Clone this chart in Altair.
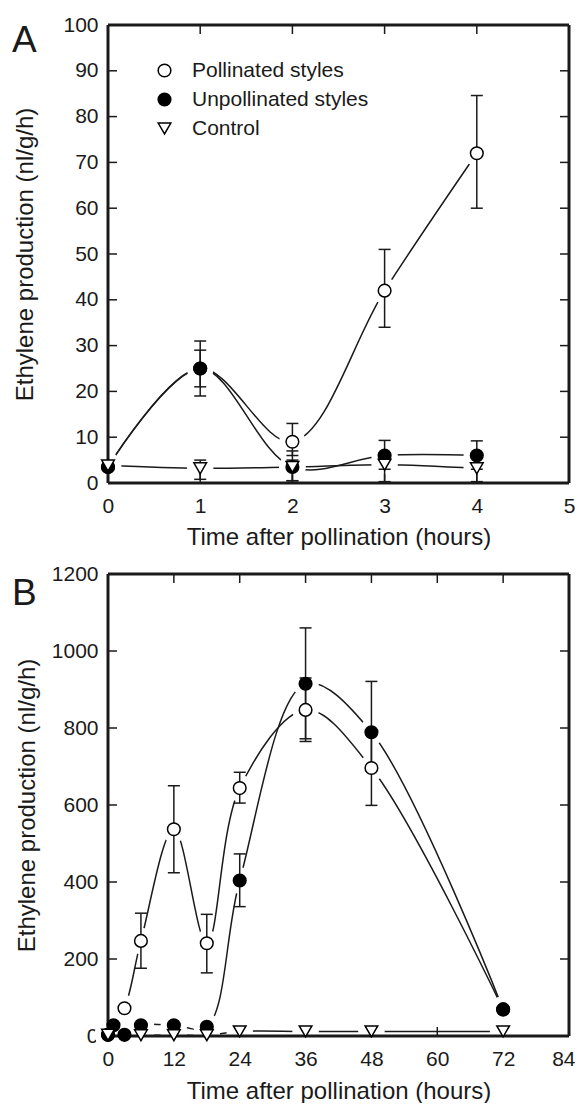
import altair as alt
import pandas as pd

SERIES = ["Pollinated styles", "Unpollinated styles", "Control"]

# ---------------- Panel A (hours 0-5) ----------------
a_x = [0, 1, 2, 3, 4]
a_poll = [3.5, 25, 9, 42, 72]
a_poll_lo = [None, 19, 6, 34, 60]
a_poll_hi = [None, 31, 13, 51, 84.6]
a_unpoll = [3.5, 25, 3.5, 6, 6]
a_unpoll_lo = [None, 21, 0.5, 3, 3]
a_unpoll_hi = [None, 29, 7, 9.3, 9.2]
a_ctrl = [3.8, 3.2, 3.5, 4, 3.2]
a_ctrl_lo = [None, 0.8, 0.5, 0.3, 0.3]
a_ctrl_hi = [None, 5, 5, 6, 5.5]

a_xticks = [0, 1, 2, 3, 4, 5]
a_yticks = [0, 10, 20, 30, 40, 50, 60, 70, 80, 90, 100]

# ---------------- Panel B (hours 0-84) ----------------
b_poll_x = [0, 3, 6, 12, 18, 24, 36, 48, 72]
b_poll = [3, 72, 247, 537, 241, 644, 847, 696, 69]
b_poll_lo = [None, None, 176, 424, 164, 605, 765, 599, None]
b_poll_hi = [None, None, 319, 650, 316, 685, 930, 790, None]
b_unpoll_x = [0, 1, 3, 6, 12, 18, 24, 36, 48, 72]
b_unpoll = [3, 28, 3, 28, 28, 24, 404, 915, 789, 69]
b_unpoll_lo = [None, None, None, None, None, None, 336, 772, 690, None]
b_unpoll_hi = [None, None, None, None, None, None, 473, 1060, 921, None]
b_ctrl_x = [0, 6, 12, 18, 24, 36, 48, 72]
b_ctrl = [3, 2, 2, 2, 12, 12, 12, 12]

b_xticks = [0, 12, 24, 36, 48, 60, 72, 84]
b_yticks = [0, 200, 400, 600, 800, 1000, 1200]

FONT = "Liberation Sans"
INK = "#1a1a1a"
TICK = 9
W = 461


def frame(xs, ys, lows, highs):
    rows = []
    for name, x, y, lo, hi in zip(SERIES, xs, ys, lows, highs):
        for i in range(len(x)):
            rows.append({"series": name, "x": x[i], "y": y[i],
                         "lo": lo[i] if lo else None, "hi": hi[i] if hi else None})
    return pd.DataFrame(rows)


def panel(df, xticks, yticks, H, letter, letter_y, ytitle_pad, xtitle_pad, show_legend):
    x0, x1 = xticks[0], xticks[-1]
    y0, y1 = yticks[0], yticks[-1]
    xs = alt.Scale(domain=[x0, x1], nice=False, zero=False)
    ys = alt.Scale(domain=[y0, y1], nice=False, zero=False)
    shape_scale = alt.Scale(domain=SERIES, range=["circle", "circle", "triangle-down"])
    fill_scale = alt.Scale(domain=SERIES, range=["white", "black", "white"])
    stroke_scale = alt.Scale(domain=SERIES, range=["black", "black", "black"])
    if show_legend:
        leg = alt.Legend(title=None, orient="none", legendX=46, legendY=35,
                         labelFont=FONT, labelFontSize=21, labelColor=INK,
                         labelLimit=0,
                         symbolSize=160, symbolStrokeColor="black",
                         symbolStrokeWidth=1.5, labelOffset=17, rowPadding=7,
                         padding=0)
    else:
        leg = None

    base = alt.Chart(df)
    lines = base.mark_line(interpolate="catmull-rom", color=INK, strokeWidth=1.5).encode(
        x=alt.X("x:Q", scale=xs,
                axis=alt.Axis(values=xticks, format="d", labelFlush=True,
                              labelFlushOffset=6,
                              title="Time after pollination (hours)",
                              labelPadding=12, titlePadding=xtitle_pad)),
        y=alt.Y("y:Q", scale=ys,
                axis=alt.Axis(values=yticks, format="d", labelFlush=False,
                              title="Ethylene production (nl/g/h)",
                              labelPadding=10, titlePadding=ytitle_pad)),
        detail="series:N",
    )
    halo = base.mark_circle(size=700, color="white", opacity=1).encode(
        x=alt.X("x:Q", scale=xs), y=alt.Y("y:Q", scale=ys))

    tx = alt.Chart(pd.DataFrame({"t": xticks[1:-1]}))
    ty = alt.Chart(pd.DataFrame({"t": yticks[1:-1]}))
    tick_b = tx.mark_rule(color=INK, strokeWidth=1.5).encode(
        x=alt.X("t:Q", scale=xs), y=alt.value(H), y2=alt.value(H - TICK))
    tick_t = tx.mark_rule(color=INK, strokeWidth=1.5).encode(
        x=alt.X("t:Q", scale=xs), y=alt.value(0), y2=alt.value(TICK))
    tick_l = ty.mark_rule(color=INK, strokeWidth=1.5).encode(
        y=alt.Y("t:Q", scale=ys), x=alt.value(0), x2=alt.value(TICK))
    tick_r = ty.mark_rule(color=INK, strokeWidth=1.5).encode(
        y=alt.Y("t:Q", scale=ys), x=alt.value(W - TICK), x2=alt.value(W))

    # plot frame along the axis domains (horizontal edges and vertical edges)
    hbox = pd.DataFrame({"fy": [y0, y1]})
    vbox = pd.DataFrame({"fx": [x0, x1]})
    frame_h = alt.Chart(hbox).mark_rule(color=INK, strokeWidth=3).encode(
        y=alt.Y("fy:Q", scale=ys), x=alt.value(0), x2=alt.value(W))
    frame_v = alt.Chart(vbox).mark_rule(color=INK, strokeWidth=3).encode(
        x=alt.X("fx:Q", scale=xs), y=alt.value(0), y2=alt.value(H))

    err = base.transform_filter("isValid(datum.lo)")
    bars = err.mark_rule(color=INK, strokeWidth=1.5).encode(
        x=alt.X("x:Q", scale=xs), y=alt.Y("lo:Q", scale=ys), y2="hi:Q")
    cap_lo = err.mark_rule(color=INK, strokeWidth=1.5, xOffset=-6, x2Offset=6).encode(
        x=alt.X("x:Q", scale=xs), x2="x:Q", y=alt.Y("lo:Q", scale=ys))
    cap_hi = err.mark_rule(color=INK, strokeWidth=1.5, xOffset=-6, x2Offset=6).encode(
        x=alt.X("x:Q", scale=xs), x2="x:Q", y=alt.Y("hi:Q", scale=ys))

    points = base.mark_point(filled=True, size=160, strokeWidth=1.5, opacity=1).encode(
        x=alt.X("x:Q", scale=xs), y=alt.Y("y:Q", scale=ys),
        shape=alt.Shape("series:N", scale=shape_scale, legend=leg),
        fill=alt.Fill("series:N", scale=fill_scale, legend=leg),
        stroke=alt.Stroke("series:N", scale=stroke_scale, legend=leg),
    )

    label = alt.Chart(pd.DataFrame({"t": [letter]})).mark_text(
        font=FONT, fontSize=37, color=INK, align="left", baseline="alphabetic"
    ).encode(text="t:N", x=alt.value(-96), y=alt.value(letter_y))

    return alt.layer(lines, halo, tick_b, tick_t, tick_l, tick_r, frame_h, frame_v,
                     bars, cap_lo, cap_hi, points, label).properties(
        width=W, height=H,
    ).resolve_scale(shape="independent", fill="independent", stroke="independent")


dfA = frame([a_x, a_x, a_x], [a_poll, a_unpoll, a_ctrl],
            [a_poll_lo, a_unpoll_lo, a_ctrl_lo], [a_poll_hi, a_unpoll_hi, a_ctrl_hi])
dfB = frame([b_poll_x, b_unpoll_x, b_ctrl_x], [b_poll, b_unpoll, b_ctrl],
            [b_poll_lo, b_unpoll_lo, None], [b_poll_hi, b_unpoll_hi, None])

chartA = panel(dfA, a_xticks, a_yticks, 458, "A", 27, 25, 9, True)
chartB = panel(dfB, b_xticks, b_yticks, 462, "B", 31, 12, 10, False)

chart = alt.vconcat(chartA, chartB, spacing=14,
                    padding={"left": 4, "top": 6, "right": 0, "bottom": 0}).resolve_scale(
    shape="independent", fill="independent", stroke="independent"
).configure_axis(
    labelFont=FONT, titleFont=FONT, labelFontSize=21, titleFontSize=24,
    labelColor=INK, titleColor=INK, titleFontWeight="normal",
    ticks=False, grid=False, domain=False,
).configure_view(strokeWidth=0)

chart.save("out.html", embed_options={"renderer": "svg", "actions": False})
